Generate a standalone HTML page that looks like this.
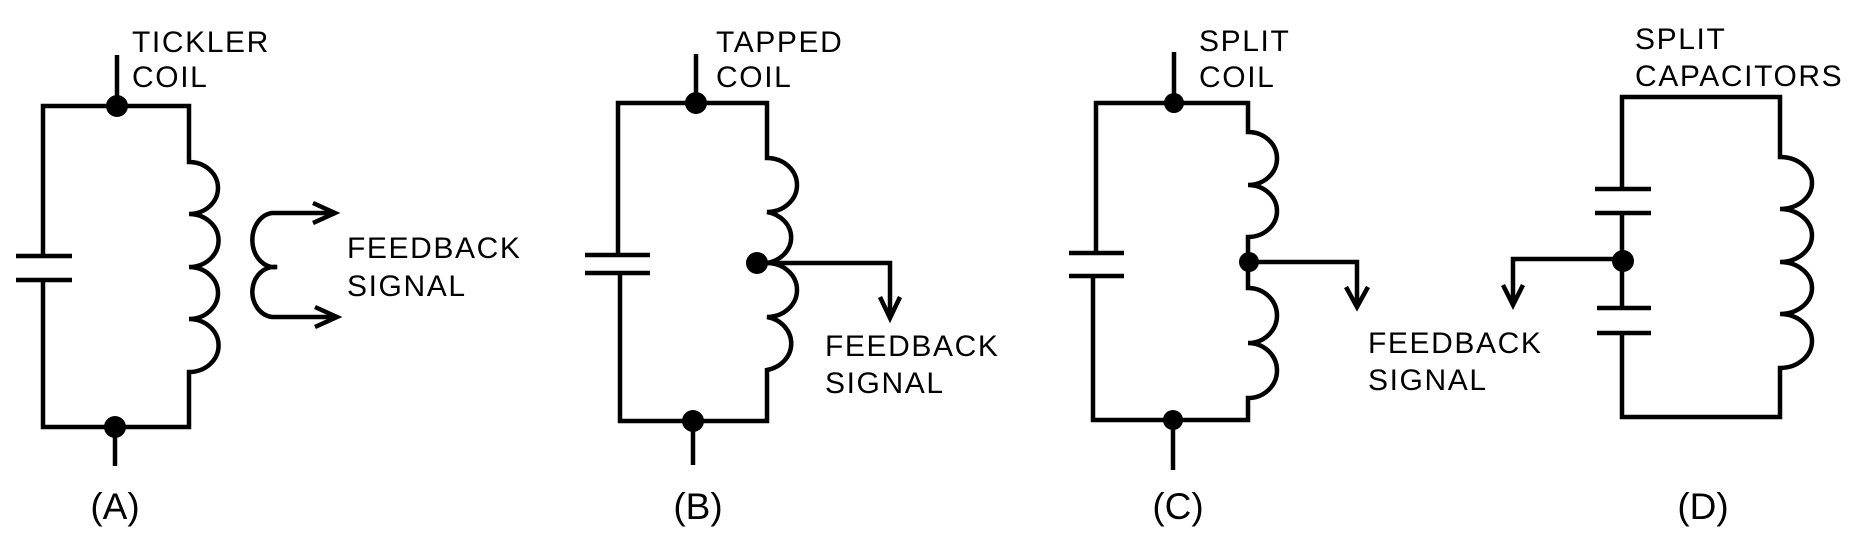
<!DOCTYPE html>
<html><head><meta charset="utf-8"><style>
html,body{margin:0;padding:0;background:#fff;}
svg{display:block;}
text{font-family:"Liberation Sans",Arial,sans-serif;fill:#000;}
.l{font-size:30px;letter-spacing:1.6px;}
.p{font-size:37px;}
</style></head><body>
<svg width="1856" height="546" viewBox="0 0 1856 546" xmlns="http://www.w3.org/2000/svg">
<g fill="none" stroke="#000" stroke-width="4.5" stroke-linejoin="miter" stroke-linecap="butt">
<!-- A -->
<path d="M117 55 V106"/>
<path d="M43 256 V106 H189 V162 A29 26 0 0 1 189 214 A29 26 0 0 1 189 267 A29 26 0 0 1 189 319 A29 26 0 0 1 189 372 V427 H43 V280"/>
<path d="M16 256 H72 M16 280 H72"/>
<path d="M115 427 V466"/>
<path d="M335 213 H272 A22 27 0 0 0 277 267 A22 25 0 0 0 272 317 H337"/>
<path d="M313 203 L335 213 L313 223 M315 307 L337 317 L315 327"/>
<!-- B -->
<path d="M696 54 V103"/>
<path d="M618 255 V103 H767 V158 A30 27 0 0 1 767 212 A30 26 0 0 1 767 263 A30 27 0 0 1 767 317 A30 27 0 0 1 767 370 V421 H620 V273"/>
<path d="M585 255 H650 M585 273 H650"/>
<path d="M693 421 V465"/>
<path d="M757 263 H890 V318"/>
<path d="M880 297 L890 318 L900 297"/>
<!-- C -->
<path d="M1174 52 V103"/>
<path d="M1096 253 V103 H1248 V132 A29 26.5 0 0 1 1248 185 A29 26 0 0 1 1248 237 V288 A29 27.5 0 0 1 1248 343 A29 27.5 0 0 1 1248 398 V420 H1093 V276"/>
<path d="M1069 253 H1124 M1069 276 H1124"/>
<path d="M1173 420 V470"/>
<path d="M1249 262 H1357 V307"/>
<path d="M1346 287 L1357 307 L1368 287"/>
<!-- D -->
<path d="M1622 189 V97 H1780 V157 A32 26 0 0 1 1780 209 A32 26.5 0 0 1 1780 262 A32 26 0 0 1 1780 314 A32 27 0 0 1 1780 368 V417 H1622 V333 M1622 213 V308"/>
<path d="M1595 189 H1651 M1595 213 H1651 M1597 308 H1651 M1597 333 H1651"/>
<path d="M1623 259 H1513 V305"/>
<path d="M1503 285 L1513 305 L1523 285"/>
</g>
<g fill="#000">
<circle cx="117" cy="106" r="11"/><circle cx="115" cy="427" r="11"/>
<circle cx="696" cy="103" r="11"/><circle cx="693" cy="421" r="11"/><circle cx="757" cy="263" r="11"/>
<circle cx="1174" cy="103" r="10"/><circle cx="1173" cy="420" r="10"/><circle cx="1249" cy="262" r="10"/>
<circle cx="1623" cy="261" r="11"/>
</g>
<text class="l" x="132" y="52">TICKLER</text>
<text class="l" x="132" y="87">COIL</text>
<text class="l" x="347" y="258">FEEDBACK</text>
<text class="l" x="347" y="296">SIGNAL</text>
<text class="p" x="115" y="519" text-anchor="middle">(A)</text>
<text class="l" x="716" y="52">TAPPED</text>
<text class="l" x="716" y="87">COIL</text>
<text class="l" x="825" y="356">FEEDBACK</text>
<text class="l" x="825" y="393">SIGNAL</text>
<text class="p" x="698" y="519" text-anchor="middle">(B)</text>
<text class="l" x="1199" y="51">SPLIT</text>
<text class="l" x="1199" y="87">COIL</text>
<text class="l" x="1368" y="353">FEEDBACK</text>
<text class="l" x="1368" y="390">SIGNAL</text>
<text class="p" x="1178" y="519" text-anchor="middle">(C)</text>
<text class="l" x="1635" y="49">SPLIT</text>
<text class="l" x="1635" y="86">CAPACITORS</text>
<text class="p" x="1703" y="519" text-anchor="middle">(D)</text>
</svg>
</body></html>
